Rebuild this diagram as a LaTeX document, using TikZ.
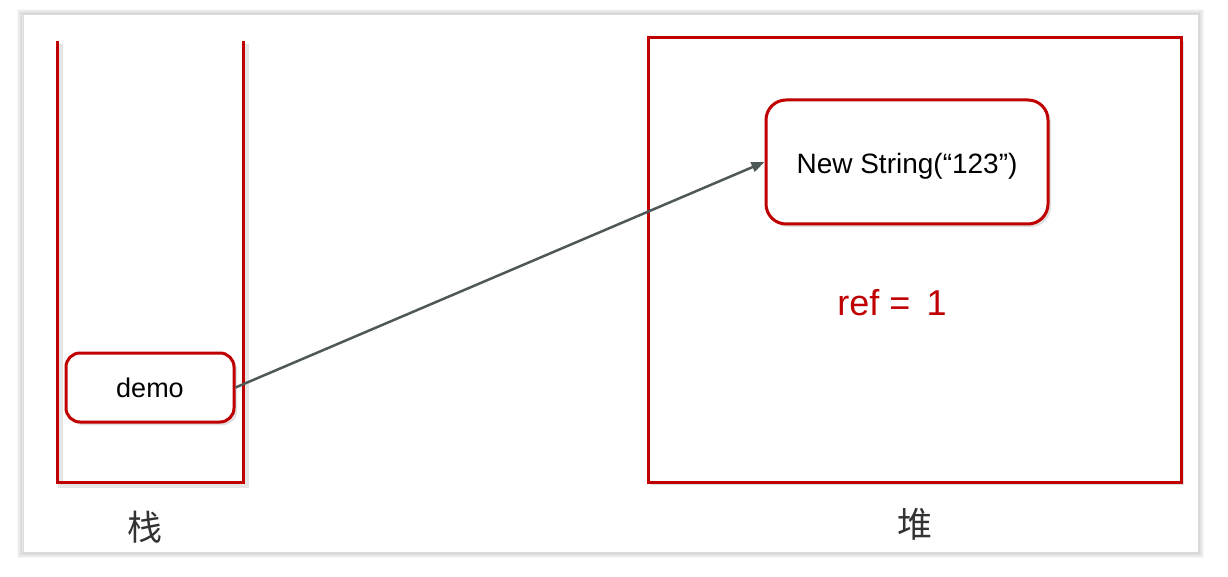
\documentclass[tikz,border=0pt]{standalone}
\usepackage{fontspec}
\setmainfont{Liberation Sans}
\newfontfamily\cjk{Noto Sans CJK SC}
\usetikzlibrary{arrows.meta,shadows}
\definecolor{boxred}{HTML}{C00000}
\definecolor{arrowgray}{HTML}{4F5858}
\definecolor{labelgray}{HTML}{333333}
\tikzset{
  redline/.style={draw=boxred, line width=3pt},
  softshadow/.style={drop shadow={shadow xshift=3pt, shadow yshift=-3pt, opacity=0.12, fill=black}},
  roundbox/.style={redline, fill=white, rounded corners=14pt, softshadow, inner sep=0pt},
  heapbox/.style={redline, fill=white, softshadow, inner sep=0pt},
  ptr/.style={draw=arrowgray, line width=2.5pt, -{Triangle[length=13pt,width=10pt]}},
  cjklabel/.style={font=\cjk\fontsize{35}{40}\selectfont, text=labelgray},
  boxtext/.style={font=\fontsize{27}{32}\selectfont, text=black},
}
\begin{document}
\begin{tikzpicture}[x=1pt,y=-1pt]
\useasboundingbox (0,0) rectangle (1228,577);
\fill[white] (0,0) rectangle (1228,577);
% card with soft shadow
\foreach \o/\a in {5/0.03,4/0.04,3/0.05,2/0.07,1/0.09}{
  \draw[black, opacity=\a, line width=2pt] (23-\o,15-\o) rectangle (1198+\o,552+\o);
}
\fill[white] (23,15) rectangle (1198,552);
\draw[black!14, line width=1pt] (23,15) rectangle (1198,552);
% stack (open U)
\draw[black, opacity=0.10, line width=5pt] (60,44) -- (60,485) -- (246,485) -- (246,44);
\draw[redline] (57,41) coordinate (stl) -- (57,482) coordinate (sbl) -- (243,482) coordinate (sbr) -- (243,41) coordinate (str);
% heap
\node[heapbox, minimum width=533, minimum height=444] (heap) at (914.5,260) {};
% boxes
\node[roundbox, minimum width=168, minimum height=69, boxtext] (demo) at (150,387.5) {demo};
\node[roundbox, rounded corners=20pt, minimum width=282, minimum height=124, font=\fontsize{28}{32}\selectfont, text height=23pt, text depth=0pt] (newstr) at (907,162) {New String(“123”)};
\node[font=\fontsize{36}{40}\selectfont, text=boxred] (ref) at (892,303) {ref = \,1};
% labels
\node[cjklabel] (stacklabel) at (145,527) {栈};
\node[cjklabel] (heaplabel) at (915,524) {堆};
% pointer
\draw[ptr] (demo.east) -- (newstr.west);
\end{tikzpicture}
\end{document}
